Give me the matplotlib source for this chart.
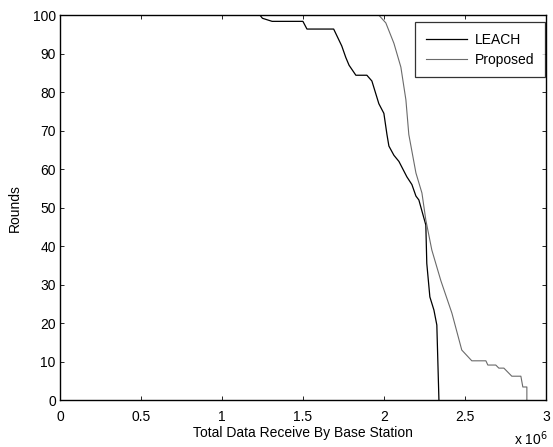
import numpy as np
import matplotlib
matplotlib.use("Agg")
import matplotlib.pyplot as plt

plt.rcParams['font.family'] = ['Liberation Sans', 'DejaVu Sans']

# data (x in units of 1e6)
leach_x = [0.0, 1.235, 1.25, 1.31, 1.50, 1.525, 1.69, 1.74, 1.765, 1.785, 1.827, 1.895,
           1.926, 1.969, 2.0, 2.019, 2.031, 2.062, 2.093, 2.142, 2.173, 2.198, 2.216,
           2.259, 2.265, 2.284, 2.309, 2.327, 2.34]
leach_y = [100, 100, 99.2, 98.4, 98.4, 96.4, 96.4, 92, 89, 87, 84.4, 84.4,
           82.9, 77, 74.5, 69, 66, 63.6, 62, 58, 56, 53, 52,
           45.5, 35.5, 26.8, 23.4, 19.5, 0]

prop_x = [0.0, 1.969, 2.012, 2.062, 2.105, 2.136, 2.154, 2.198, 2.235, 2.259, 2.296,
          2.352, 2.420, 2.481, 2.543, 2.630, 2.642, 2.691, 2.710, 2.741, 2.790,
          2.846, 2.858, 2.883, 2.883]
prop_y = [100, 100, 98, 92.7, 86.5, 78, 69, 59, 53.8, 46.8, 39,
          31, 22.6, 13, 10.2, 10.2, 9.1, 9.1, 8.3, 8.3, 6.2,
          6.2, 3.4, 3.4, 0]

fs = 10
fig = plt.figure(figsize=(5.53, 4.47), dpi=100)
ax = fig.add_axes([0.1085, 0.105, 0.8785, 0.861])

ax.plot(np.array(leach_x) * 1e6, leach_y, color='black', lw=0.9, label='LEACH')
ax.plot(np.array(prop_x) * 1e6, prop_y, color='#6a6a6a', lw=0.8, label='Proposed')

ax.set_xlim(0, 3e6)
ax.set_ylim(0, 100)
ax.set_xticks(np.arange(0, 3.01e6, 0.5e6))
ax.set_xticklabels(['0', '0.5', '1', '1.5', '2', '2.5', '3'])
ax.set_yticks(np.arange(0, 101, 10))
ax.tick_params(direction='in', length=3, width=0.6, top=True, right=True, labelsize=fs)
ax.tick_params(axis='x', pad=7)
ax.tick_params(axis='y', pad=3)
for s in ax.spines.values():
    s.set_linewidth(1.0)

fig.text(548 / 553, 2 / 447, r'x 10$^{6}$', ha='right', va='baseline', fontsize=fs)
ax.set_xlabel('Total Data Receive By Base Station', fontsize=fs, labelpad=1.5)
ax.set_ylabel('Rounds', fontsize=fs, labelpad=8)

leg = ax.legend(loc='upper right', bbox_to_anchor=(0.998, 0.982), fontsize=fs,
                frameon=True, fancybox=False, edgecolor='black', borderaxespad=0,
                handlelength=3.0, borderpad=0.75, labelspacing=0.45, handletextpad=0.55)
leg.get_frame().set_linewidth(0.9)

fig.savefig('out.png', dpi=100)
